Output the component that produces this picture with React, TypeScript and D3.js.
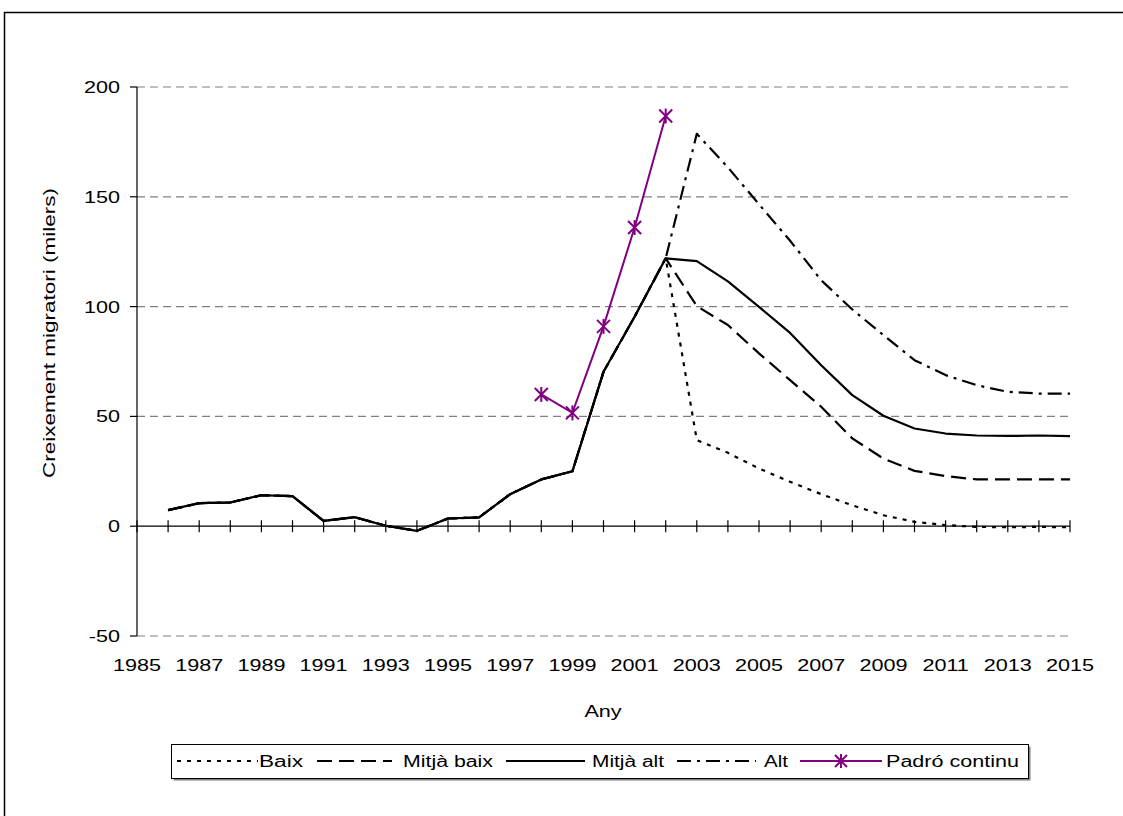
import React from "react";
import * as d3 from "d3";

const years = [1986, 1987, 1988, 1989, 1990, 1991, 1992, 1993, 1994, 1995, 1996, 1997, 1998, 1999, 2000, 2001, 2002, 2003, 2004, 2005, 2006, 2007, 2008, 2009, 2010, 2011, 2012, 2013, 2014, 2015];
const historic = [7.3, 10.5, 10.8, 14.1, 13.7, 2.4, 4.1, 0.2, -2.1, 3.5, 4.0, 14.6, 21.3, 25.0, 70.3, 95.4, 122.0];
const baixProj = [39.2, 33.4, 26.3, 20.2, 14.6, 9.5, 5.0, 2.0, 0.5, -0.3, -0.5, -0.3, -0.5];
const mitjaBaixProj = [100.2, 91.6, 78.7, 66.5, 54.4, 40.0, 30.8, 25.2, 22.8, 21.3, 21.3, 21.3, 21.3];
const mitjaAltProj = [120.7, 111.5, 99.9, 88.0, 73.3, 59.7, 50.3, 44.5, 42.2, 41.3, 41.1, 41.3, 41.0];
const altProj = [178.7, 163.4, 146.6, 130.0, 112.0, 98.7, 87.0, 75.6, 68.8, 64.2, 61.2, 60.4, 60.4];
const padroYears = [1998, 1999, 2000, 2001, 2002];
const padroValues = [60.0, 51.6, 91.0, 136.0, 186.8];
const yTicks = [-50, 0, 50, 100, 150, 200];
const xLabelYears = [1985, 1987, 1989, 1991, 1993, 1995, 1997, 1999, 2001, 2003, 2005, 2007, 2009, 2011, 2013, 2015];
const seriesNames = ["Baix", "Mitjà baix", "Mitjà alt", "Alt", "Padró continu"];

const FONT = "'Liberation Sans', Arial, sans-serif";
const SX = 1.35;

type Pt = { year: number; value: number };

function build(proj: number[]): Pt[] {
  const vals = historic.concat(proj);
  return years.map((y, i) => ({ year: y, value: vals[i] }));
}

export default function App() {
  const x = d3.scaleLinear().domain([1985, 2015]).range([137, 1070]);
  const y = d3.scaleLinear().domain([-50, 200]).range([636, 87]);
  const line = d3
    .line<Pt>()
    .x((d) => x(d.year))
    .y((d) => y(d.value));

  const series = [
    { name: seriesNames[3], data: build(altProj), dash: "14,6,3,6" },
    { name: seriesNames[1], data: build(mitjaBaixProj), dash: "15,7" },
    { name: seriesNames[0], data: build(baixProj), dash: "4,6" },
    { name: seriesNames[2], data: build(mitjaAltProj), dash: "none" },
  ];
  const padro: Pt[] = padroYears.map((yr, i) => ({ year: yr, value: padroValues[i] }));
  const purple = "#800080";

  const star = (cx: number, cy: number, r: number, key: string) => (
    <g key={key} stroke={purple} strokeWidth={2}>
      <line x1={cx - r} y1={cy - r} x2={cx + r} y2={cy + r} />
      <line x1={cx - r} y1={cy + r} x2={cx + r} y2={cy - r} />
      <line x1={cx} y1={cy - r - 1} x2={cx} y2={cy + r + 1} />
    </g>
  );

  const allYearTicks = d3.range(1985, 2016);

  const legendY = 761;
  const legendItems = [
    { label: seriesNames[0], x1: 177, x2: 258, tx: 259, w: 44, dash: "4,6", color: "#000", marker: false },
    { label: seriesNames[1], x1: 317, x2: 392, tx: 403, w: 90, dash: "15,7", color: "#000", marker: false },
    { label: seriesNames[2], x1: 506, x2: 585, tx: 592, w: 72, dash: "none", color: "#000", marker: false },
    { label: seriesNames[3], x1: 677, x2: 756, tx: 764, w: 24, dash: "14,6,3,6", color: "#000", marker: false },
    { label: seriesNames[4], x1: 800, x2: 882, tx: 886, w: 133, dash: "none", color: purple, marker: true },
  ];

  return (
    <svg
      width={1123}
      height={816}
      style={{ position: "absolute", left: 0, top: 0, background: "#fff" }}
      fontFamily={FONT}
    >
      <rect x={0} y={0} width={1123} height={816} fill="#fff" />
      <rect x={4.5} y={12.5} width={1200} height={900} fill="none" stroke="#000" strokeWidth={1.5} />

      {/* gridlines */}
      {yTicks
        .filter((t) => t !== 0)
        .map((t) => (
          <line
            key={"g" + t}
            x1={x(1985)}
            x2={x(2015)}
            y1={y(t)}
            y2={y(t)}
            stroke="#808080"
            strokeWidth={1.2}
            strokeDasharray="8,5"
          />
        ))}

      {/* y axis */}
      <line x1={x(1985)} x2={x(1985)} y1={y(200)} y2={y(-50)} stroke="#000" strokeWidth={1.2} />
      {yTicks.map((t) => (
        <g key={"yt" + t}>
          <line x1={x(1985) - 7} x2={x(1985)} y1={y(t)} y2={y(t)} stroke="#000" strokeWidth={1.2} />
          <text
            transform={`translate(120,${y(t) + 6}) scale(${SX},1)`}
            textAnchor="end"
            fontSize={16}
            fill="#000"
          >
            {t}
          </text>
        </g>
      ))}

      {/* x axis at 0 */}
      <line x1={x(1985)} x2={x(2015)} y1={y(0)} y2={y(0)} stroke="#000" strokeWidth={1.2} />
      {allYearTicks.map((yr) => (
        <line key={"xt" + yr} x1={x(yr)} x2={x(yr)} y1={y(0) - 6} y2={y(0) + 6} stroke="#000" strokeWidth={1.2} />
      ))}
      {xLabelYears.map((yr) => (
        <text
          key={"xl" + yr}
          transform={`translate(${x(yr)},671) scale(${SX},1)`}
          textAnchor="middle"
          fontSize={16}
          fill="#000"
        >
          {yr}
        </text>
      ))}

      <text transform={`translate(603,717) scale(${SX},1)`} textAnchor="middle" fontSize={16} fill="#000">
        Any
      </text>
      <text
        transform={`translate(55,333) rotate(-90)`}
        textAnchor="middle"
        fontSize={16}
        fill="#000"
        textLength={290}
        lengthAdjust="spacingAndGlyphs"
      >
        Creixement migratori (milers)
      </text>

      {/* series */}
      {series.map((s) => (
        <path
          key={s.name}
          d={line(s.data) || ""}
          fill="none"
          stroke="#000"
          strokeWidth={2.2}
          strokeDasharray={s.dash}
          strokeLinejoin="round"
        />
      ))}
      <path d={line(padro) || ""} fill="none" stroke={purple} strokeWidth={2} />
      {padro.map((d, i) => star(x(d.year), y(d.value), 6.5, "st" + i))}

      {/* legend */}
      <rect x={173.5} y={746.5} width={857} height={34} fill="#808080" />
      <rect x={171.5} y={744.5} width={857} height={34} fill="#fff" stroke="#000" strokeWidth={1} />
      {legendItems.map((it) => (
        <g key={"lg" + it.label}>
          <line
            x1={it.x1}
            x2={it.x2}
            y1={legendY}
            y2={legendY}
            stroke={it.color}
            strokeWidth={2.2}
            strokeDasharray={it.dash}
          />
          {it.marker && star((it.x1 + it.x2) / 2, legendY, 6, "lgs")}
          <text
            x={it.tx}
            y={legendY + 6}
            fontSize={16}
            fill="#000"
            textLength={it.w}
            lengthAdjust="spacingAndGlyphs"
          >
            {it.label}
          </text>
        </g>
      ))}
    </svg>
  );
}
